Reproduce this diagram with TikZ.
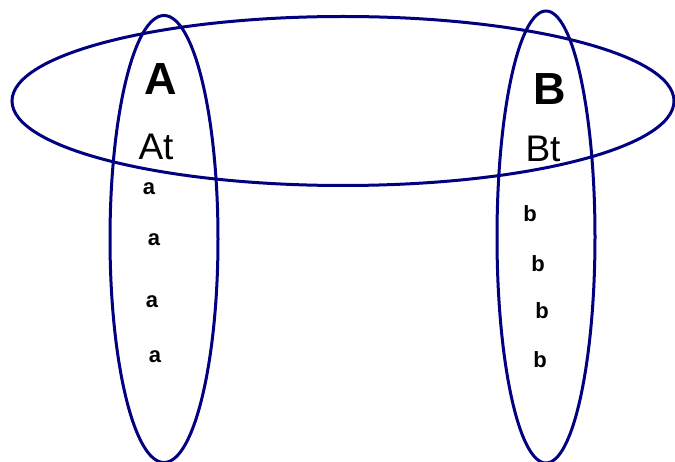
\documentclass[tikz,border=0pt]{standalone}
\usepackage{fontspec}
\setmainfont{Liberation Sans}
\usepackage{xcolor}
\usepackage{tikz}
\usetikzlibrary{shapes.geometric}
\definecolor{setblue}{RGB}{0,0,128}
\tikzset{
  setline/.style={draw=setblue, line width=3pt, ellipse, inner sep=0pt},
  big/.style={anchor=base, inner sep=0pt, font=\fontsize{45}{48}\selectfont\bfseries},
  mid/.style={anchor=base, inner sep=0pt, font=\fontsize{37}{40}\selectfont},
  elt/.style={anchor=base, inner sep=0pt, font=\fontsize{22}{24}\selectfont\bfseries},
}

\begin{document}
\begin{tikzpicture}[x=1pt, y=1pt]
\useasboundingbox (0,0) rectangle (675,461);
% the three sets
\node[setline, minimum width=662pt, minimum height=169pt] (top) at (343,360) {};
\node[setline, minimum width=108pt, minimum height=447pt] (setA) at (164,222) {};
\node[setline, minimum width=98pt, minimum height=452pt] (setB) at (546,224) {};
% left set
\node[big] (A) at (161,366) {A};
\node[mid] (At) at (156,301) {At};
\node[elt] (a1) at (149,266) {a};
\node[elt] (a2) at (154,215) {a};
\node[elt] (a3) at (152,153) {a};
\node[elt] (a4) at (155,99) {a};
% right set
\node[big] (B) at (550,356) {B};
\node[mid] (Bt) at (543,299) {Bt};
\node[elt] (b1) at (530,239) {b};
\node[elt] (b2) at (538,189) {b};
\node[elt] (b3) at (542,142) {b};
\node[elt] (b4) at (540,94) {b};
\end{tikzpicture}
\end{document}
